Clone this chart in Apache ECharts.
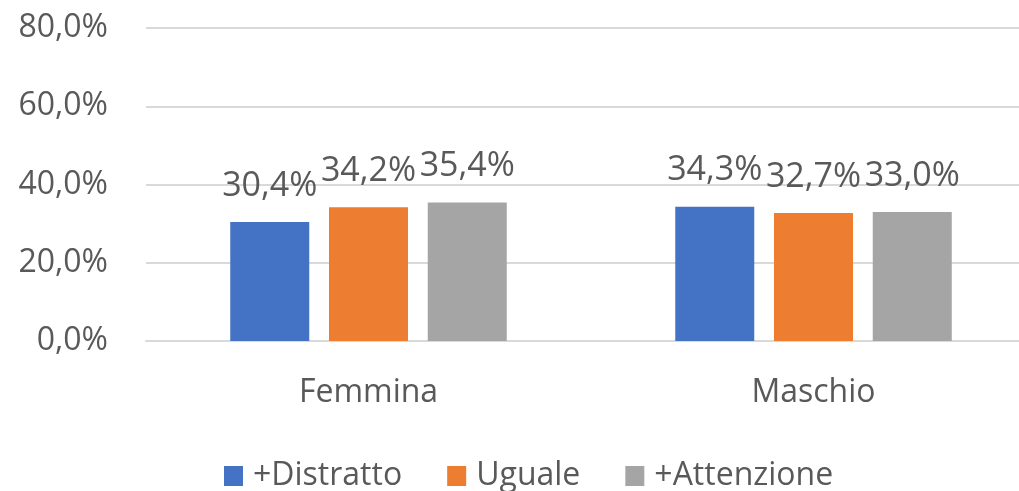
<!DOCTYPE html>
<html>
<head>
<meta charset="utf-8">
<script src="https://cdn.jsdelivr.net/npm/echarts@6/dist/echarts.min.js"></script>
<style>
	html, body { margin: 0; padding: 0; background: #fff; overflow: hidden; }
	/* the original is cropped on the right, so the canvas is a bit wider than the page */
	#chart { width: 1036px; height: 491px; }
</style>
</head>
<body>
<div id="chart"></div>
<script>
	var categories = ['Femmina', 'Maschio'];
	var seriesNames = ['+Distratto', 'Uguale', '+Attenzione'];
	var distratto = [30.4, 34.3];
	var uguale = [34.2, 32.7];
	var attenzione = [35.4, 33.0];
	var colors = ['#4472C4', '#ED7D31', '#A5A5A5'];

	var fontName = "'Open Sans', sans-serif";
	function pct(v) {
		return v.toFixed(1).replace('.', ',') + '%';
	}

	var myChart = echarts.init(document.getElementById('chart'));
	var values = [distratto, uguale, attenzione];
	var series = [];
	for (var i = 0; i < seriesNames.length; i++) {
		series.push({
			name: seriesNames[i],
			type: 'bar',
			barWidth: 79,
			barGap: '25%',
			itemStyle: { color: colors[i] },
			label: {
				show: true,
				position: 'top',
				distance: 19,
				color: '#595959',
				fontSize: 34,
				fontFamily: fontName,
				formatter: function (p) { return pct(p.value); }
			},
			data: values[i]
		});
	}

	var option = {
		animation: false,
		color: colors,
		grid: { left: 146, right: 0, top: 28, bottom: 150, containLabel: false },
		legend: {
			top: 455,
			left: 219,
			itemWidth: 19,
			itemHeight: 20,
			itemGap: 45,
			icon: 'rect',
			textStyle: { color: '#595959', fontSize: 32, fontFamily: fontName, padding: [0, 0, 0, 5] },
			data: seriesNames
		},
		xAxis: {
			type: 'category',
			data: categories,
			axisLine: { lineStyle: { color: '#D9D9D9', width: 2 } },
			axisTick: { show: false },
			axisLabel: { color: '#595959', fontSize: 32, fontFamily: fontName, margin: 36 }
		},
		yAxis: {
			type: 'value',
			min: 0,
			max: 80,
			interval: 20,
			axisLine: { show: false },
			axisTick: { show: false },
			splitLine: { lineStyle: { color: '#D9D9D9', width: 2 } },
			axisLabel: {
				color: '#595959',
				fontSize: 32,
				fontFamily: fontName,
				margin: 38,
				formatter: function (v) { return pct(v); }
			}
		},
		series: series
	};
	myChart.setOption(option);
</script>
</body>
</html>
